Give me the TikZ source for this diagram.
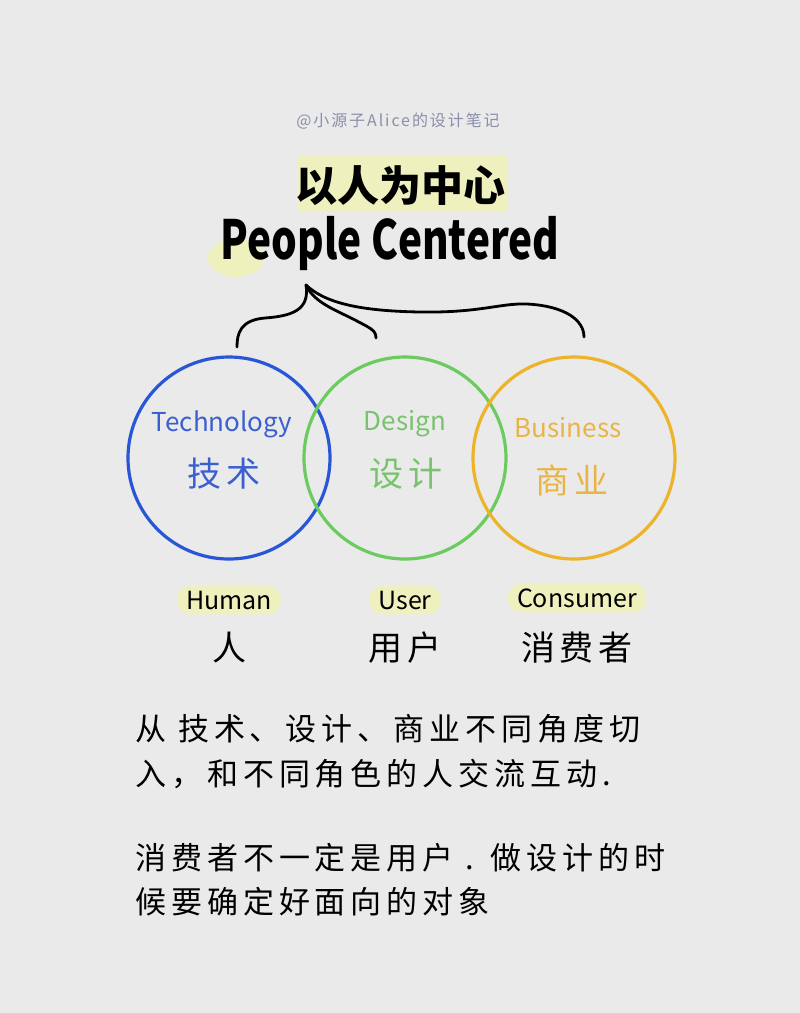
\documentclass[tikz,border=0pt]{standalone}
\usepackage{fontspec}
\setmainfont{Noto Sans CJK SC}
\newfontfamily\cjk{Noto Sans CJK SC}
\newfontfamily\cjkwide[LetterSpace=12]{Noto Sans CJK SC}
\newfontfamily\cjknote[LetterSpace=16]{Noto Sans CJK SC}

\definecolor{bg}{HTML}{EAEAEA}
\definecolor{hlyellow}{HTML}{EEF1BE}
\definecolor{cblue}{HTML}{2956D6}
\definecolor{cgreen}{HTML}{6CCB5F}
\definecolor{corange}{HTML}{EDB32A}
\definecolor{tblue}{HTML}{3B5FCF}
\definecolor{tgreen}{HTML}{79C26E}
\definecolor{torange}{HTML}{E9B446}
\definecolor{wm}{HTML}{8A8FAA}

\begin{document}
\begin{tikzpicture}[x=1pt,y=-1pt]
			\fill[bg] (0,0) rectangle (800,1013);
			\useasboundingbox (0,0) rectangle (800,1013);
			
			% title
			\node[text=wm,font=\fontsize{16}{18}\selectfont\cjkwide] (W) at (398,121) {@小源子Alice的设计笔记};
			\fill[hlyellow] (297,156) rectangle (507,212);
			\fill[hlyellow] (236,258) ellipse (28 and 19);
			\node[font=\fontsize{42}{46}\selectfont\bfseries] (Z) at (400,186) {以人为中心};
			\node[font=\fontsize{54}{58}\selectfont\bfseries] (E) at (390,244) {\scalebox{0.75}[1]{People Centered}};
			
			% circles
			\begin{scope}[every node/.style={circle,line width=3.2pt,minimum size=202pt,inner sep=0pt,draw}]
				\node[draw=cblue] (T) at (229,458) {};
				\node[draw=cgreen] (D) at (405,458) {};
				\node[draw=corange] (B) at (574,458) {};
			\end{scope}
			
			\begin{scope}[every node/.style={font=\fontsize{26}{30}\selectfont}]
				\node[text=tblue] (Ten) at (222,424) {Technology};
				\node[text=tgreen] (Den) at (405,424) {Design};
				\node[text=torange] (Ben) at (568,428) {Business};
			\end{scope}
			\begin{scope}[every node/.style={font=\fontsize{34}{38}\selectfont\cjkwide}]
				\node[text=tblue] (Tzh) at (224,474) {技术};
				\node[text=tgreen] (Dzh) at (406,474) {设计};
				\node[text=torange] (Bzh) at (572,480) {商业};
			\end{scope}
			
			% brace
			\coordinate (top) at (306,285);
			\coordinate (l) at (237,347);
			\coordinate (m) at (376,338);
			\coordinate (r) at (584,337);
			\begin{scope}[line width=2.8pt,line cap=round]
				\draw (top) .. controls (310,310) and (292,316) .. (265,318) .. controls (240,320) and (237,334) .. (l);
				\draw (top) .. controls (314,303) and (338,311) .. (355,320) .. controls (370,328) and (376,330) .. (m);
				\draw (top) .. controls (325,303) and (360,311) .. (420,312) .. controls (480,313) and (500,303) .. (527,304) .. controls (565,306) and (584,320) .. (r);
			\end{scope}
			
			% roles
			\begin{scope}[every node/.style={font=\fontsize{25}{28}\selectfont,fill=hlyellow,rounded corners=13pt,inner xsep=9pt,inner ysep=5pt}]
				\node (H) at (229,600) {Human};
				\node (U) at (405,600) {User};
				\node (C) at (577,598) {Consumer};
			\end{scope}
			\begin{scope}[every node/.style={font=\fontsize{34}{38}\selectfont\cjkwide}]
				\node (Hzh) at (229,648) {人};
				\node (Uzh) at (405,648) {用户};
				\node (Czh) at (577,648) {消费者};
			\end{scope}
			
			% notes
			\begin{scope}[every node/.style={anchor=west,font=\fontsize{31}{36}\selectfont\cjknote,inner sep=0pt}]
				\node (N1) at (135,729) {从 技术、设计、商业不同角度切};
				\node (N2) at (135,774) {入，和不同角色的人交流互动.};
				\node (N3) at (135,858) {消费者不一定是用户 . 做设计的时};
				\node (N4) at (135,902) {候要确定好面向的对象};
			\end{scope}
		\end{tikzpicture}
\end{document}
